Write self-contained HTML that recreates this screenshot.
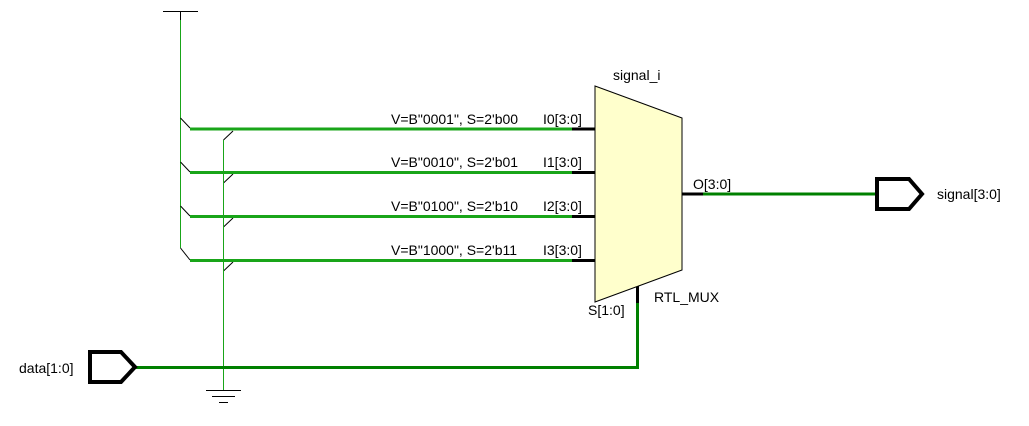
<!DOCTYPE html>
<html><head><style>body{margin:0;background:#fff}svg{display:block}text{font-family:"Liberation Sans",sans-serif;font-size:14px;fill:#000}</style></head><body>
<svg width="1029" height="426" viewBox="0 0 1029 426">
<line x1="163" y1="11.5" x2="198" y2="11.5" stroke="#000" stroke-width="1"/>
<line x1="180.5" y1="11" x2="180.5" y2="20" stroke="#000" stroke-width="1"/>
<line x1="180.5" y1="20" x2="180.5" y2="248" stroke="#19a519" stroke-width="1"/>
<g stroke="#000" stroke-width="1" fill="none">
<path d="M180.5 118 L190 128"/><path d="M180.5 162 L190 172"/><path d="M180.5 206 L190 216"/><path d="M180.5 248 L190 260"/>
<path d="M233 131 L223.5 140"/><path d="M233 174 L223.5 183"/><path d="M233 218 L223.5 227"/><path d="M233 262 L223.5 271"/>
</g>
<line x1="223.5" y1="140" x2="223.5" y2="390" stroke="#19a519" stroke-width="1"/>
<g stroke="#000" stroke-width="1">
<line x1="206" y1="390.5" x2="241" y2="390.5"/><line x1="212" y1="396.5" x2="235" y2="396.5"/><line x1="219" y1="402.5" x2="228" y2="402.5"/>
</g>
<g stroke="#19a519" stroke-width="3">
<line x1="190" y1="129" x2="572" y2="129"/><line x1="190" y1="172.5" x2="572" y2="172.5"/><line x1="190" y1="216.5" x2="572" y2="216.5"/><line x1="190" y1="260.5" x2="572" y2="260.5"/>
</g>
<g stroke="#000" stroke-width="3">
<line x1="572" y1="129" x2="595" y2="129"/><line x1="572" y1="172.5" x2="595" y2="172.5"/><line x1="572" y1="216.5" x2="595" y2="216.5"/><line x1="572" y1="260.5" x2="595" y2="260.5"/>
<line x1="682" y1="194" x2="703" y2="194"/><line x1="637.5" y1="286" x2="637.5" y2="303"/>
</g>
<polygon points="595,86 682,118 682,270 595,302" fill="#ffffcc" stroke="#000" stroke-width="1"/>
<g stroke="#008000" stroke-width="3" fill="none">
<line x1="703" y1="194" x2="877" y2="194"/>
<path d="M637.5 303 L637.5 367.5 L135 367.5"/>
</g>
<polygon points="90,352 121,352 135,367 121,382 90,382" fill="#fff" stroke="#000" stroke-width="4"/>
<polygon points="877,179 909,179 922,194 909,209 877,209" fill="#fff" stroke="#000" stroke-width="4"/>
<text x="613" y="80">signal_i</text>
<text x="391" y="124">V=B"0001", S=2'b00</text>
<text x="391" y="167">V=B"0010", S=2'b01</text>
<text x="391" y="211">V=B"0100", S=2'b10</text>
<text x="391" y="255">V=B"1000", S=2'b11</text>
<text x="543" y="124">I0[3:0]</text>
<text x="543" y="167">I1[3:0]</text>
<text x="543" y="211">I2[3:0]</text>
<text x="543" y="255">I3[3:0]</text>
<text x="693" y="189">O[3:0]</text>
<text x="654" y="302">RTL_MUX</text>
<text x="588" y="315">S[1:0]</text>
<text x="19" y="373">data[1:0]</text>
<text x="937" y="199">signal[3:0]</text>
</svg>
</body></html>
